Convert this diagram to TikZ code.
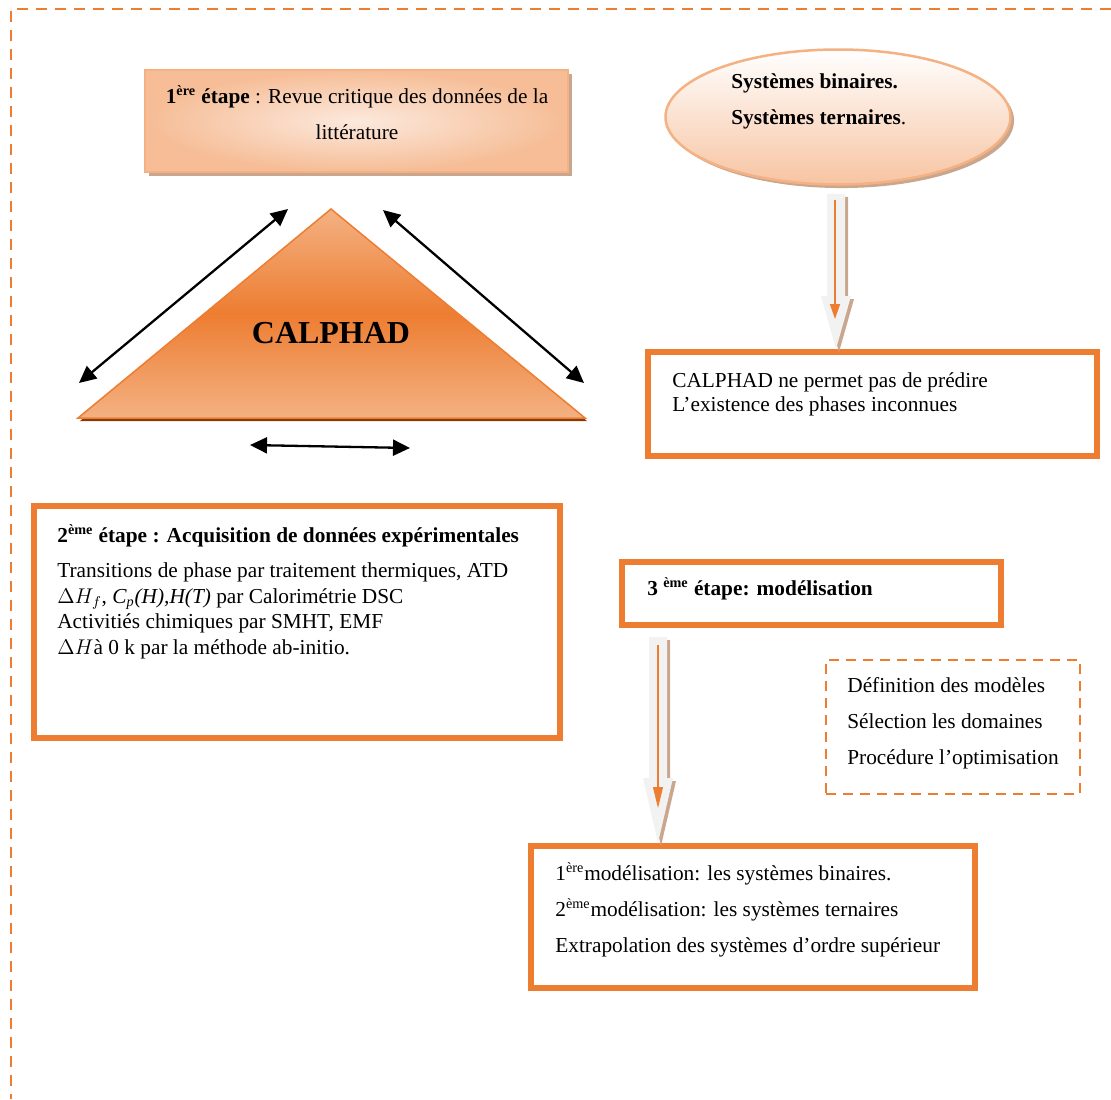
\documentclass[tikz,border=0pt]{standalone}
\usepackage{amsmath}
\usepackage{fontspec}
\setmainfont{Liberation Serif}
\usetikzlibrary{arrows.meta,calc,shapes.geometric,shadows}
\newlength\px
\setlength\px{0.563pt}
\definecolor{calorange}{HTML}{ED7D31}
\definecolor{peach}{HTML}{F4B183}
\definecolor{peachlight}{HTML}{FCE9DD}
\definecolor{peachsoft}{HTML}{F7C4A2}
\definecolor{shadowbrown}{HTML}{C9A68D}
\definecolor{darkbrown}{HTML}{843C0C}
\definecolor{blockgray}{HTML}{F2F2F2}
\begin{document}
\begin{tikzpicture}[x=\px,y=-\px,>={Triangle[length=9.6pt,width=9pt]},
		box/.style = {draw=calorange, line width=6\px, inner sep=0},
		txt/.style = {inner sep=0, align=left, font=\fontsize{12}{14.4}\selectfont},
		wide/.style = {inner sep=0, align=left, font=\fontsize{12}{20.3}\selectfont},
		dbl/.style = {<->, line width=2.3\px, black},
		shadowed/.style = {drop shadow={shadow xshift=2pt, shadow yshift=-2pt, opacity=1, fill=shadowbrown}}]
		\useasboundingbox (0,0) rectangle (1111,1099);
		%Dashed frame round the page
		\draw[calorange, line width=2.5\px, dash pattern=on 11\px off 8\px] (1111,9) -- (11,9) -- (11,1099);
		
		%Create the 1st step box and the ellipse
		\node[draw=peach, line width=1.5\px, inner color=peachlight, outer color=peach!85, minimum width=423\px, minimum height=102\px, shadowed] (b1) at (356.5,121) {};
		\node[wide, align=center] (t1) at (357,113) {\textbf{1\textsuperscript{ère} étape} : Revue critique des données de la\\ littérature};
		\node[ellipse, draw=peach, line width=2.5\px, top color=white, bottom color=peachsoft, minimum width=345\px, minimum height=135\px, shadowed] (sys) at (838,117) {};
		\node[wide, anchor=west] (tsys) at (731,101) {\textbf{Systèmes binaires.}\\ \textbf{Systèmes ternaires}.};
		
		%Create the CALPHAD triangle
		\coordinate (apex) at (331,209);
		\coordinate (bl) at (78,418);
		\coordinate (br) at (585,418);
		\fill[darkbrown, transform canvas={shift={(2,3)}}] (apex) -- (br) -- (bl) -- cycle;
		\shadedraw[top color=peach, bottom color=peach, middle color=calorange, draw=calorange, line width=1.5\px] (apex) -- (br) -- (bl) -- cycle;
		\node[inner sep=0, font=\fontsize{18}{22}\selectfont\bfseries] (calphad) at (331,333) {CALPHAD};
		
		%Double arrows round the triangle
		\coordinate (l1) at (79,383);
		\coordinate (l2) at (288,209);
		\coordinate (r1) at (383,210);
		\coordinate (r2) at (584,383);
		\coordinate (d1) at (250,445);
		\coordinate (d2) at (410,448);
		\draw[dbl] (l1) -- (l2); %Left side
		\draw[dbl] (r1) -- (r2); %Right side
		\draw[dbl] (d1) -- (d2); %Under the base
		
		%Create the orange boxes
		\node[box, minimum width=449\px, minimum height=104\px] (bcal) at (872.5,404) {};
		\node[txt, anchor=west, font=\fontsize{12}{13.5}\selectfont] (tcal) at (672,394) {CALPHAD ne permet pas de prédire\\ L’existence des phases inconnues};
		\node[box, minimum width=526\px, minimum height=232\px] (b2) at (297,622) {};
		\node[txt, anchor=west] (t2) at (57,592) {\textbf{2\textsuperscript{ème} étape : Acquisition de données expérimentales}\\[5.3pt]
			Transitions de phase par traitement thermiques, ATD\\
			$\Delta H_f$, \textit{C\textsubscript{p}(H),H(T)} par Calorimétrie DSC\\
			Activitiés chimiques par SMHT, EMF\\
			$\Delta H$à 0 k par la méthode ab-initio.};
		\node[box, minimum width=379\px, minimum height=63\px] (b3) at (811.5,593.5) {};
		\node[txt, anchor=west] (t3) at (647,589) {\textbf{3 \textsuperscript{ème} étape: modélisation}};
		\node[draw=calorange, line width=2\px, dash pattern=on 10\px off 7\px, minimum width=254\px, minimum height=134\px] (opt) at (953,727) {};
		\node[wide, anchor=west] (topt) at (847,723) {Définition des modèles\\ Sélection les domaines\\ Procédure l’optimisation};
		\node[box, minimum width=444\px, minimum height=142\px] (b4) at (753,917) {};
		\node[wide, anchor=west] (t4) at (555,910) {1\textsuperscript{ère}modélisation: les systèmes binaires.\\ 2\textsuperscript{ème}modélisation: les systèmes ternaires\\ Extrapolation des systèmes d’ordre supérieur};
		
		%Block arrows between the boxes
		\coordinate (a1) at ($(sys.south)+(-2,8)$);
		\coordinate (a1tip) at (a1 |- bcal.north);
		\fill[shadowbrown, transform canvas={shift={(3,3)}}] (a1) ++(-9,0) -- ++(18,0) -- ($(a1tip)+(9,-53)$) -- ($(a1tip)+(15,-53)$) -- (a1tip) -- ($(a1tip)+(-15,-53)$) -- ($(a1tip)+(-9,-53)$) -- cycle;
		\fill[blockgray] (a1) ++(-9,0) -- ++(18,0) -- ($(a1tip)+(9,-53)$) -- ($(a1tip)+(15,-53)$) -- (a1tip) -- ($(a1tip)+(-15,-53)$) -- ($(a1tip)+(-9,-53)$) -- cycle;
		\draw[-{Triangle[length=8.4pt,width=5.6pt]}, calorange, line width=1.5\px] ($(a1)+(-1,6)$) -- ($(a1tip)+(-1,-30)$); %Ellipse -> CALPHAD box
		
		\coordinate (a2) at ($(b3.south west)+(39,9)$);
		\coordinate (a2tip) at (a2 |- b4.north);
		\fill[shadowbrown, transform canvas={shift={(3,3)}}] (a2) ++(-9,0) -- ++(18,0) -- ($(a2tip)+(9,-65)$) -- ($(a2tip)+(15,-65)$) -- (a2tip) -- ($(a2tip)+(-15,-65)$) -- ($(a2tip)+(-9,-65)$) -- cycle;
		\fill[blockgray] (a2) ++(-9,0) -- ++(18,0) -- ($(a2tip)+(9,-65)$) -- ($(a2tip)+(15,-65)$) -- (a2tip) -- ($(a2tip)+(-15,-65)$) -- ($(a2tip)+(-9,-65)$) -- cycle;
		\draw[-{Triangle[length=11.8pt,width=5.6pt]}, calorange, line width=1.2\px] ($(a2)+(0,8)$) -- ($(a2tip)+(0,-35)$); %3rd step -> models
		
	\end{tikzpicture}
\end{document}
